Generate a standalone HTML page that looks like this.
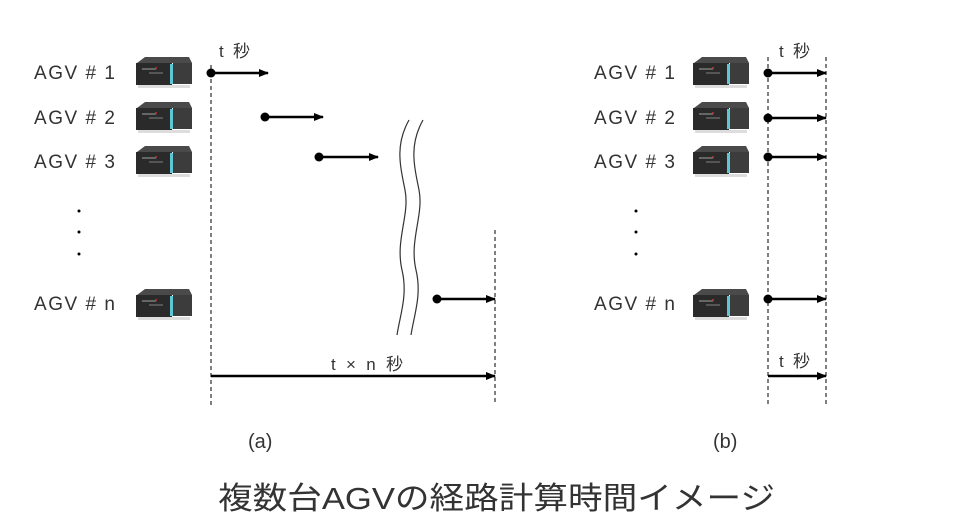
<!DOCTYPE html>
<html><head><meta charset="utf-8"><style>
html,body{margin:0;padding:0;background:#fff;}
svg{display:block;}
text{font-family:"Liberation Sans","Noto Sans CJK JP",sans-serif;fill:#333;}
</style></head><body>
<svg width="972" height="522" viewBox="0 0 972 522" xmlns="http://www.w3.org/2000/svg">
<defs>
<g id="agv">
  <path d="M2 6 L10 0 L54 0 L57 6 Z" fill="#4a4a4a"/>
  <rect x="1" y="6" width="36" height="22" fill="#2a2a2a"/>
  <rect x="35" y="7" width="3" height="20" fill="#5fc6d6"/>
  <rect x="38" y="6" width="19" height="21" fill="#3c3c3c"/>
  <rect x="7" y="11" width="14" height="2" fill="#666"/>
  <rect x="14" y="15" width="14" height="2" fill="#555"/>
  <circle cx="21" cy="11" r="1" fill="#c33"/>
  <rect x="3" y="28" width="52" height="3" fill="#ddd"/>
</g>
<marker id="ah" markerWidth="10" markerHeight="8" refX="9" refY="4" orient="auto" markerUnits="userSpaceOnUse">
  <path d="M0 0 L10 4 L0 8 Z" fill="#000"/>
</marker>
</defs>

<g font-size="19">
<text x="34" y="79" textLength="81" lengthAdjust="spacing">AGV # 1</text>
<text x="34" y="124" textLength="81" lengthAdjust="spacing">AGV # 2</text>
<text x="34" y="168" textLength="81" lengthAdjust="spacing">AGV # 3</text>
<text x="34" y="310" textLength="81" lengthAdjust="spacing">AGV # n</text>
<text x="594" y="79" textLength="81" lengthAdjust="spacing">AGV # 1</text>
<text x="594" y="124" textLength="81" lengthAdjust="spacing">AGV # 2</text>
<text x="594" y="168" textLength="81" lengthAdjust="spacing">AGV # 3</text>
<text x="594" y="310" textLength="81" lengthAdjust="spacing">AGV # n</text>
</g>

<use href="#agv" x="135" y="57"/>
<use href="#agv" x="135" y="102"/>
<use href="#agv" x="135" y="146"/>
<use href="#agv" x="135" y="289"/>
<use href="#agv" x="692" y="57"/>
<use href="#agv" x="692" y="102"/>
<use href="#agv" x="692" y="146"/>
<use href="#agv" x="692" y="289"/>

<g fill="#000">
<circle cx="79" cy="211" r="1.5"/><circle cx="79" cy="232" r="1.5"/><circle cx="79" cy="254" r="1.5"/>
<circle cx="636" cy="211" r="1.5"/><circle cx="636" cy="232" r="1.5"/><circle cx="636" cy="254" r="1.5"/>
</g>

<g stroke="#000" stroke-width="1" stroke-dasharray="4,3">
<line x1="211" y1="65" x2="211" y2="405"/>
<line x1="495" y1="230" x2="495" y2="405"/>
<line x1="768" y1="57" x2="768" y2="405"/>
<line x1="826" y1="57" x2="826" y2="405"/>
</g>

<g stroke="#000" stroke-width="2.5" marker-end="url(#ah)">
<line x1="211" y1="73" x2="268" y2="73"/>
<line x1="265" y1="117" x2="323" y2="117"/>
<line x1="319" y1="157" x2="378" y2="157"/>
<line x1="437" y1="299" x2="495" y2="299"/>
<line x1="211" y1="376" x2="495" y2="376"/>
<line x1="768" y1="73" x2="826" y2="73"/>
<line x1="768" y1="118" x2="826" y2="118"/>
<line x1="768" y1="157" x2="826" y2="157"/>
<line x1="768" y1="299" x2="826" y2="299"/>
<line x1="768" y1="376" x2="826" y2="376"/>
</g>
<g fill="#000">
<circle cx="211" cy="73" r="4.5"/><circle cx="265" cy="117" r="4.5"/>
<circle cx="319" cy="157" r="4.5"/><circle cx="437" cy="299" r="4.5"/>
<circle cx="768" cy="73" r="4.5"/><circle cx="768" cy="118" r="4.5"/>
<circle cx="768" cy="157" r="4.5"/><circle cx="768" cy="299" r="4.5"/>
</g>

<g fill="none" stroke="#333" stroke-width="1.2">
<path d="M409 120 C395 145,400 165,405 190 C410 215,395 240,402 270 C408 295,400 315,397 335"/>
<path d="M423 120 C409 145,414 165,419 190 C424 215,409 240,416 270 C422 295,414 315,411 335"/>
</g>

<g font-size="17">
<text x="219" y="57" textLength="31" lengthAdjust="spacing">t 秒</text>
<text x="779" y="57" textLength="31" lengthAdjust="spacing">t 秒</text>
<text x="779" y="367" textLength="31" lengthAdjust="spacing">t 秒</text>
<text x="331" y="370" textLength="72" lengthAdjust="spacing">t × n 秒</text>
</g>
<g font-size="20">
<text x="248" y="448">(a)</text>
<text x="713" y="448">(b)</text>
</g>
<text x="218" y="509" font-size="31" textLength="557" lengthAdjust="spacingAndGlyphs">複数台AGVの経路計算時間イメージ</text>
</svg>
</body></html>
